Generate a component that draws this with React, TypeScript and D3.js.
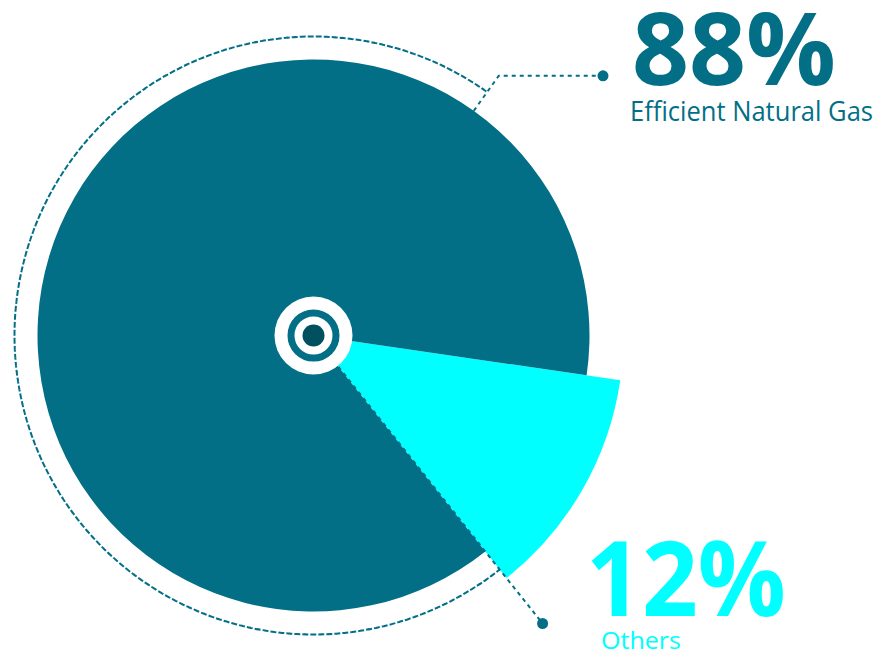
import React from "react";
import * as d3 from "d3";

const categories = ["Others", "Efficient Natural Gas"];
const values = [12, 88];
const labels = ["12%", "88%"];
const colors = ["#00FFFF", "#026F87"];

const W = 878;
const H = 652;
const cx = 313.5;
const cy = 335.5;
const deg = Math.PI / 180;

export default function App() {
  const pie = d3
    .pie<number>()
    .sort(null)
    .startAngle(98.3 * deg)
    .endAngle((98.3 + 360) * deg);
  const arcs = pie(values);
  const radii = [310, 276];

  const dotted = d3.arc()({
    innerRadius: 299,
    outerRadius: 299,
    startAngle: arcs[0].endAngle,
    endAngle: (360 + 35.5) * deg,
  } as any) as string;

  const pt = (a: number, r: number) => [Math.sin(a) * r, -Math.cos(a) * r];

  // Others leader along the slice edge
  const aO = arcs[0].endAngle;
  const o1 = pt(aO, 40);
  const o2 = pt(aO, 368);
  // Efficient leader
  const aE = 35.5 * deg;
  const e1 = pt(aE, 276);
  const e2 = pt(aE, 319);
  const eDotX = 603 - cx;

  const teal = colors[1];
  return (
    <svg
      width={W}
      height={H}
      style={{ position: "absolute", left: 0, top: 0, background: "#fff" }}
    >
      <g transform={`translate(${cx},${cy})`}>
        {arcs.map((a, i) => (
          <path
            key={categories[i]}
            d={d3.arc()({ ...a, innerRadius: 0, outerRadius: radii[i] } as any) as string}
            fill={colors[i]}
          />
        ))}
        <path d={dotted} fill="none" stroke={teal} strokeWidth={2} strokeDasharray="4 4" />
        <line x1={o1[0]} y1={o1[1]} x2={o2[0]} y2={o2[1]} stroke={teal} strokeWidth={2} strokeDasharray="4 4" />
        <circle cx={o2[0]} cy={o2[1]} r={5.5} fill={teal} />
        <polyline
          points={`${e1[0]},${e1[1]} ${e2[0]},${e2[1]} ${eDotX},${e2[1]}`}
          fill="none"
          stroke={teal}
          strokeWidth={2}
          strokeDasharray="4 4"
        />
        <circle cx={eDotX} cy={e2[1]} r={5.5} fill={teal} />
        <circle r={39} fill="#fff" />
        <circle r={22.5} fill="#fff" stroke={teal} strokeWidth={7} />
        <circle r={11} fill="#00505F" />
      </g>
      <g fontFamily="'Open Sans', 'Noto Sans', sans-serif">
        <text x={632} y={85} fontSize={100} fontWeight={700} fill={teal} textLength={204} lengthAdjust="spacingAndGlyphs">
          {labels[1]}
        </text>
        <text x={630} y={121} fontSize={28} fill={teal} textLength={243} lengthAdjust="spacingAndGlyphs">
          {categories[1]}
        </text>
        <text x={586} y={616} fontSize={104} fontWeight={700} fill={colors[0]} textLength={200} lengthAdjust="spacingAndGlyphs">
          {labels[0]}
        </text>
        <text x={601} y={649} fontSize={24} fill={colors[0]} textLength={80} lengthAdjust="spacingAndGlyphs">
          {categories[0]}
        </text>
      </g>
    </svg>
  );
}
